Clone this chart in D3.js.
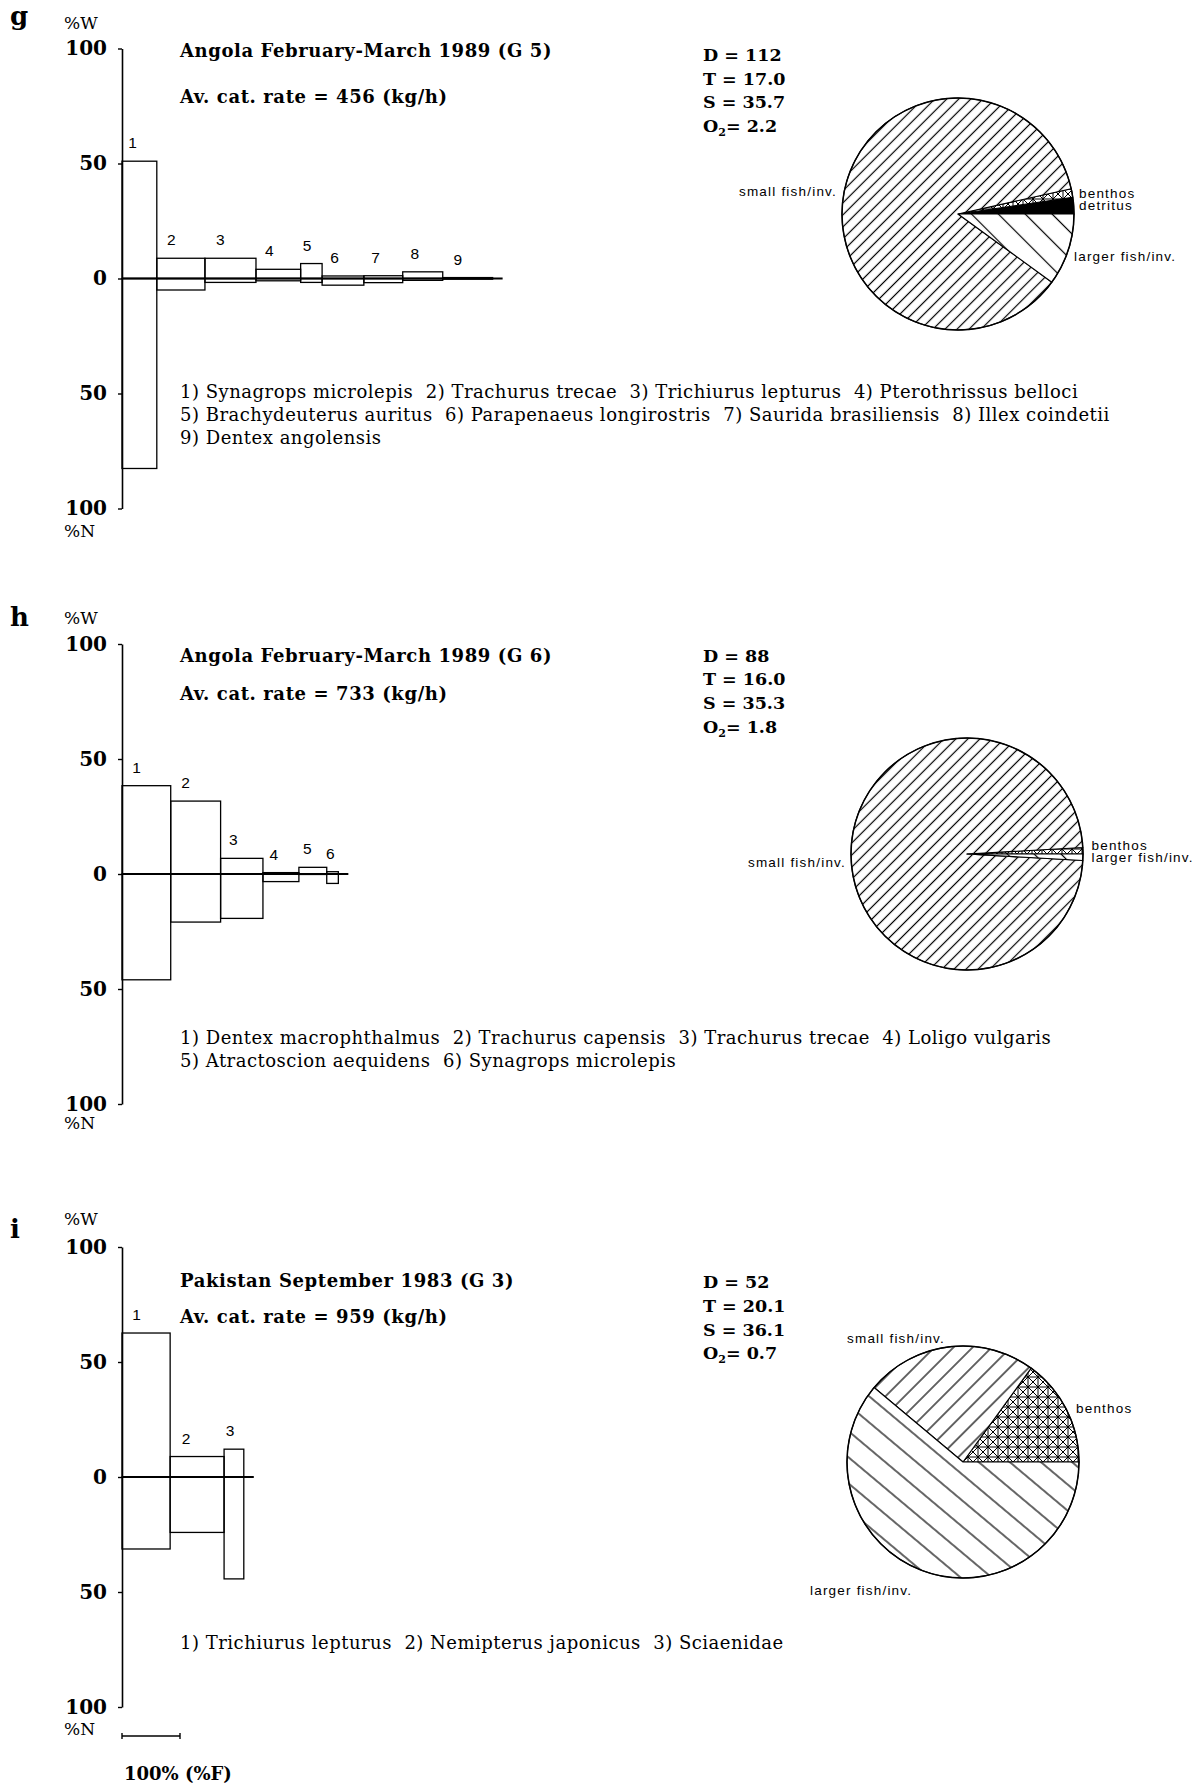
<!DOCTYPE html>
<html>
<head>
<meta charset="utf-8">
<script src="https://cdn.jsdelivr.net/npm/d3@7"></script>
<style>
  body { margin: 0; background: #fff; }
  svg { display: block; }
  .serif { font-family: "DejaVu Serif", "Liberation Serif", serif; }
  .sans { font-family: "Liberation Sans", Arial, sans-serif; }
</style>
</head>
<body>
<div id="chart"></div>
<script>
// ---- data ----
const panelLetters = ["g", "h", "i"];
const titles = [
  "Angola February-March 1989 (G 5)",
  "Angola February-March 1989 (G 6)",
  "Pakistan September 1983 (G 3)"
];
const catchRates = [456, 733, 959];
const depths = ["112", "88", "52"];
const temperatures = ["17.0", "16.0", "20.1"];
const salinities = ["35.7", "35.3", "36.1"];
const oxygens = ["2.2", "1.8", "0.7"];

const speciesG = ["Synagrops microlepis", "Trachurus trecae", "Trichiurus lepturus",
  "Pterothrissus belloci", "Brachydeuterus auritus", "Parapenaeus longirostris",
  "Saurida brasiliensis", "Illex coindetii", "Dentex angolensis"];
const weightG = [51, 8.8, 8.8, 4.0, 6.5, 1.1, 1.2, 2.9, 0.4];   // %W
const numberG = [82.6, 5.0, 1.7, 1.0, 1.7, 2.9, 1.8, 0.8, 0.3]; // %N
const freqG = [60, 83, 88, 77, 37, 72, 67, 69, 86];             // %F

const speciesH = ["Dentex macrophthalmus", "Trachurus capensis", "Trachurus trecae",
  "Loligo vulgaris", "Atractoscion aequidens", "Synagrops microlepis"];
const weightH = [38.4, 31.7, 6.8, 0.6, 2.9, 1.0];
const numberH = [46, 20.9, 19.3, 3.3, 0.2, 4.1];
const freqH = [84, 86, 73, 62, 48, 20];

const speciesI = ["Trichiurus lepturus", "Nemipterus japonicus", "Sciaenidae"];
const weightI = [62.6, 8.9, 12.1];
const numberI = [31.3, 24.1, 44.3];
const freqI = [83, 93, 34];

// how many species names go on each legend line
const legendLineSizes = [[4, 4, 1], [4, 2], [3]];

// diet composition of the pies (percent)
const dietGroups = ["detritus", "benthos", "small fish/inv.", "larger fish/inv."];
const dietG = [2.3, 1.2, 86.5, 10];
const dietH = [0, 0.9, 98.2, 0.9];
const dietI = [0, 15, 23.9, 61.1];

const axisTicks = [100, 50, 0, -50, -100];
const scaleBarLabel = "100% (%F)";

// ---- layout ----
const width = 1202, height = 1792;
const axisX = 122;
const pxPerPct = 2.3;
const fScale = d3.scaleLinear().domain([0, 100]).range([0, 58]);

const panels = [
  { species: speciesG, w: weightG, n: numberG, f: freqG, diet: dietG,
    top: 48.5, letterY: 25, wY: 29, nY: 537, titleY: 57, rateY: 103, statsY: 60.7, legendY: 397.5,
    pie: [958, 214], smallGap: 8.5, largerGap: 19, largerAngle: -45,
    labels: { "small fish/inv.": [-121, -18, "end"], "benthos": [121, -16, "start"],
              "detritus": [121, -4.5, "start"], "larger fish/inv.": [116, 47, "start"] } },
  { species: speciesH, w: weightH, n: numberH, f: freqH, diet: dietH,
    top: 644, letterY: 626, wY: 624, nY: 1129, titleY: 662, rateY: 700, statsY: 661.5, legendY: 1044,
    pie: [967, 854], smallGap: 8.5, largerGap: 19, largerAngle: -45,
    labels: { "small fish/inv.": [-121, 13, "end"], "benthos": [124.5, -4, "start"],
              "larger fish/inv.": [124.5, 8, "start"] } },
  { species: speciesI, w: weightI, n: numberI, f: freqI, diet: dietI,
    top: 1247, letterY: 1238, wY: 1225, nY: 1735, titleY: 1287, rateY: 1323, statsY: 1288, legendY: 1649,
    pie: [963, 1462], smallGap: 13.5, largerGap: 20, largerAngle: -50,
    labels: { "small fish/inv.": [-116, -119.5, "start"], "benthos": [113, -49.5, "start"],
              "larger fish/inv.": [-153, 133, "start"] } }
];

const svg = d3.select("#chart").append("svg")
  .attr("width", width)
  .attr("height", height)
  .attr("viewBox", [0, 0, width, height]);

svg.append("rect").attr("width", width).attr("height", height).attr("fill", "#fff");
const defs = svg.append("defs");

function hatch(id, gap, angle, sw) {
  const p = defs.append("pattern")
    .attr("id", id)
    .attr("patternUnits", "userSpaceOnUse")
    .attr("width", gap).attr("height", gap)
    .attr("patternTransform", `rotate(${angle})`);
  p.append("rect").attr("width", gap).attr("height", gap).attr("fill", "#fff");
  p.append("line")
    .attr("x1", gap / 2).attr("x2", gap / 2)
    .attr("y1", -1).attr("y2", gap + 1)
    .attr("stroke", "#000").attr("stroke-width", sw);
}

// crosshatch used for benthos
(function () {
  const s = 10;
  const p = defs.append("pattern")
    .attr("id", "cross")
    .attr("patternUnits", "userSpaceOnUse")
    .attr("width", s).attr("height", s);
  p.append("rect").attr("width", s).attr("height", s).attr("fill", "#fff");
  const segs = [[0, s / 2, s, s / 2], [s / 2, 0, s / 2, s], [0, 0, s, s], [0, s, s, 0]];
  p.selectAll("line").data(segs).join("line")
    .attr("x1", (d) => d[0]).attr("y1", (d) => d[1])
    .attr("x2", (d) => d[2]).attr("y2", (d) => d[3])
    .attr("stroke", "#000").attr("stroke-width", 1);
})();

panels.forEach((p, pi) => {
  const g = svg.append("g");
  const y = d3.scaleLinear().domain([100, -100]).range([p.top, p.top + 200 * pxPerPct]);

  // panel letter and axis captions
  g.append("text").attr("class", "serif")
    .attr("x", 10).attr("y", p.letterY)
    .attr("font-size", 26).attr("font-weight", "bold")
    .text(panelLetters[pi]);
  g.append("text").attr("class", "serif")
    .attr("x", 64).attr("y", p.wY).attr("font-size", 17)
    .text("%W");
  g.append("text").attr("class", "serif")
    .attr("x", 64).attr("y", p.nY).attr("font-size", 17)
    .text("%N");

  // vertical axis
  const yAxis = d3.axisLeft(y)
    .tickValues(axisTicks)
    .tickFormat((d) => Math.abs(d))
    .tickSize(4)
    .tickSizeOuter(0)
    .tickPadding(11);
  const ax = g.append("g")
    .attr("transform", `translate(${axisX}, 0)`)
    .call(yAxis);
  ax.select(".domain").attr("stroke", "#000").attr("stroke-width", 1.6);
  ax.selectAll(".tick line").attr("stroke", "#000").attr("stroke-width", 1.4);
  ax.selectAll(".tick text")
    .attr("class", "serif")
    .attr("fill", "#000")
    .attr("font-size", 20)
    .attr("font-weight", "bold");

  // bars: width = %F, up = %W, down = %N
  const starts = d3.cumsum([0, ...p.f]);
  const bars = p.species.map((name, i) => ({
    i,
    x0: axisX + fScale(starts[i]),
    wd: fScale(p.f[i]),
    w: p.w[i],
    n: p.n[i]
  }));

  const barG = g.append("g")
    .attr("fill", "none")
    .attr("stroke", "#000")
    .attr("stroke-width", 1.3);
  barG.selectAll("rect.w").data(bars).join("rect")
    .attr("class", "w")
    .attr("x", (d) => d.x0)
    .attr("y", (d) => y(d.w))
    .attr("width", (d) => d.wd)
    .attr("height", (d) => y(0) - y(d.w));
  barG.selectAll("rect.n").data(bars).join("rect")
    .attr("class", "n")
    .attr("x", (d) => d.x0)
    .attr("y", y(0))
    .attr("width", (d) => d.wd)
    .attr("height", (d) => y(-d.n) - y(0));

  // zero line
  const zeroEnd = axisX + fScale(d3.sum(p.f)) + 10;
  g.append("line")
    .attr("x1", axisX).attr("x2", zeroEnd)
    .attr("y1", y(0)).attr("y2", y(0))
    .attr("stroke", "#000").attr("stroke-width", 1.8);

  // bar numbers
  g.append("g").selectAll("text").data(bars).join("text")
    .attr("class", "sans")
    .attr("font-size", 15.5)
    .attr("text-anchor", "middle")
    .attr("x", (d) => d.x0 + Math.min(16, d.wd * 0.3))
    .attr("y", (d) => y(d.w) - 13)
    .text((d) => d.i + 1);

  // title and catch rate
  g.append("text").attr("class", "serif")
    .attr("x", 180).attr("y", p.titleY)
    .attr("font-size", 18).attr("font-weight", "bold")
    .attr("letter-spacing", 0.6)
    .text(titles[pi]);
  g.append("text").attr("class", "serif")
    .attr("x", 180).attr("y", p.rateY)
    .attr("font-size", 18).attr("font-weight", "bold")
    .attr("letter-spacing", 0.6)
    .style("white-space", "pre")
    .text(`Av. cat. rate = ${catchRates[pi]} (kg/h)`);

  // hydrographic values
  const stats = g.append("g").attr("class", "serif")
    .attr("font-size", 17.5).attr("font-weight", "bold");
  const statRows = [
    ["D", depths[pi]],
    ["T", temperatures[pi]],
    ["S", salinities[pi]],
    ["O", oxygens[pi]]
  ];
  statRows.forEach(([k, v], r) => {
    const t = stats.append("text")
      .attr("x", 703).attr("y", p.statsY + r * 23.8)
      .style("white-space", "pre");
    if (k === "O") {
      t.append("tspan").text("O");
      t.append("tspan").attr("font-size", 11).attr("dy", 4).text("2");
      t.append("tspan").attr("dy", -4).text("= " + v);
    } else {
      t.text(`${k} = ${v}`);
    }
  });

  // species legend
  let k = 0;
  legendLineSizes[pi].forEach((count, li) => {
    const items = [];
    for (let c = 0; c < count; c++, k++) items.push(`${k + 1}) ${p.species[k]}`);
    g.append("text").attr("class", "serif")
      .attr("x", 180).attr("y", p.legendY + li * 23.2)
      .attr("font-size", 18)
      .attr("letter-spacing", 0.5)
      .style("white-space", "pre")
      .text(items.join("  "));
  });

  // pie of diet composition
  const fills = {
    "detritus": "#000",
    "benthos": "url(#cross)",
    "small fish/inv.": `url(#small${pi})`,
    "larger fish/inv.": `url(#larger${pi})`
  };
  hatch(`small${pi}`, p.smallGap, 45, 1.2);
  hatch(`larger${pi}`, p.largerGap, p.largerAngle, 1.2);

  const r = 116;
  const dietData = dietGroups.map((name, i) => ({ name, v: p.diet[i] })).filter((d) => d.v > 0);
  const pie = d3.pie()
    .sort(null)
    .value((d) => d.v)
    .startAngle(Math.PI / 2)
    .endAngle(Math.PI / 2 - 2 * Math.PI);
  const arc = d3.arc().innerRadius(0).outerRadius(r);
  const pieG = g.append("g").attr("transform", `translate(${p.pie[0]}, ${p.pie[1]})`);
  pieG.selectAll("path").data(pie(dietData)).join("path")
    .attr("d", arc)
    .attr("fill", (d) => fills[d.data.name])
    .attr("stroke", "#000")
    .attr("stroke-width", 1.1)
    .attr("stroke-linejoin", "round");
  pieG.append("circle")
    .attr("r", r)
    .attr("fill", "none")
    .attr("stroke", "#000")
    .attr("stroke-width", 1.5);

  pieG.selectAll("text").data(dietData).join("text")
    .attr("class", "sans")
    .attr("font-size", 13.5)
    .attr("letter-spacing", 1.2)
    .attr("x", (d) => p.labels[d.name][0])
    .attr("y", (d) => p.labels[d.name][1])
    .attr("text-anchor", (d) => p.labels[d.name][2])
    .text((d) => d.name);
});

// frequency scale bar under the last panel
const sb = svg.append("g").attr("transform", `translate(${axisX}, 1736)`);
sb.append("line")
  .attr("x1", fScale(0)).attr("x2", fScale(100))
  .attr("stroke", "#000").attr("stroke-width", 1.6);
sb.selectAll("line.tick").data([0, 100]).join("line")
  .attr("class", "tick")
  .attr("x1", (d) => fScale(d)).attr("x2", (d) => fScale(d))
  .attr("y1", -3).attr("y2", 3)
  .attr("stroke", "#000").attr("stroke-width", 1.4);
svg.append("text").attr("class", "serif")
  .attr("x", 124).attr("y", 1780)
  .attr("font-size", 18).attr("font-weight", "bold")
  .style("white-space", "pre")
  .text(scaleBarLabel);
</script>
</body>
</html>
